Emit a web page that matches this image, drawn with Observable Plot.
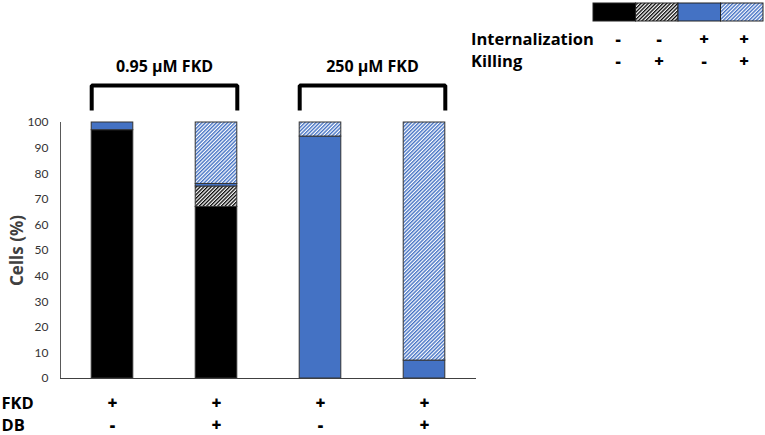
<!DOCTYPE html>
<html>
<head>
<meta charset="utf-8">
<script src="https://cdn.jsdelivr.net/npm/d3@7"></script>
<script src="https://cdn.jsdelivr.net/npm/@observablehq/plot@0.6"></script>
<style>
  html, body { margin: 0; padding: 0; background: #fff; }
  #wrap { position: relative; width: 765px; height: 435px; font-family: "Open Sans", Lato, sans-serif; }
  #legend { position: absolute; left: 0; top: 0; width: 765px; height: 80px; pointer-events: none; }
  .lg { position: absolute; font-weight: 700; font-size: 16.5px; color: #000; line-height: 1; }
</style>
</head>
<body>
<svg width="0" height="0" style="position:absolute">
  <defs>
    <pattern id="hatchBlack" patternUnits="userSpaceOnUse" width="2.6" height="2.6" patternTransform="rotate(45)">
      <rect width="2.6" height="2.6" fill="#fff"></rect>
      <rect width="1.3" height="2.6" fill="#000"></rect>
    </pattern>
    <pattern id="hatchBlue" patternUnits="userSpaceOnUse" width="2.6" height="2.6" patternTransform="rotate(45)">
      <rect width="2.6" height="2.6" fill="#fff"></rect>
      <rect width="1.4" height="2.6" fill="#4472c4"></rect>
    </pattern>
  </defs>
</svg>
<div id="wrap">
  <div id="chart"></div>
  <div id="legend"></div>
</div>
<script>
// ---- data ----
const conditions = ["0.95 µM FKD, DB-", "0.95 µM FKD, DB+", "250 µM FKD, DB-", "250 µM FKD, DB+"];
const states = ["Int- Kill-", "Int- Kill+", "Int+ Kill-", "Int+ Kill+"];
const stateFills = ["#000000", "url(#hatchBlack)", "#4472c4", "url(#hatchBlue)"];
const cond1 = [97, 0, 3, 0];
const cond2 = [67, 8, 1, 24];
const cond3 = [0, 0, 94.5, 5.5];
const cond4 = [0, 0, 7, 93];
const fkdSigns = ["+", "+", "+", "+"];
const dbSigns = ["-", "+", "-", "+"];
const groups = ["0.95 µM FKD", "250 µM FKD"];
const internalizationSigns = ["-", "-", "+", "+"];
const killingSigns = ["-", "+", "-", "+"];
const yTicks = [0, 10, 20, 30, 40, 50, 60, 70, 80, 90, 100];

// ---- build stacked segments ----
const series = [cond1, cond2, cond3, cond4];
const segments = [];
series.forEach((vals, i) => {
  let acc = 0;
  vals.forEach((v, j) => {
    if (v > 0) {
      segments.push({i, state: states[j], fill: stateFills[j], y1: acc, y2: acc + v});
    }
    acc += v;
  });
});
const half = 0.2; // half bar width in band units
const brackets = groups.flatMap((g, k) => {
  const a = 2 * k, b = 2 * k + 1;
  return [{g, x: a - half, y: 104.7}, {g, x: a - half, y: 114.5}, {g, x: b + half, y: 114.5}, {g, x: b + half, y: 104.7}];
});
const groupLabels = groups.map((g, k) => ({g, x: 2 * k + 0.5}));
const signRows = conditions.map((c, i) => ({i, fkd: fkdSigns[i], db: dbSigns[i]}));

const bold = "'Open Sans', Lato, sans-serif";
const chart = Plot.plot({
  width: 765,
  height: 435,
  marginLeft: 60,
  marginRight: 289,
  marginTop: 122,
  marginBottom: 57,
  style: {fontFamily: bold, background: "transparent", overflow: "visible"},
  x: {domain: [-0.5, 3.5], axis: null},
  y: {domain: [0, 100], axis: null},
  color: {type: "identity"},
  marks: [
    Plot.axisY({ticks: yTicks, tickSize: 0, tickPadding: 12, fontSize: 12, color: "#333", label: null, tickFormat: d => String(d), fontFamily: "Lato, sans-serif"}),
    Plot.ruleX([-0.5], {y1: 0, y2: 100, stroke: "#595959", strokeWidth: 1}),
    Plot.rect(segments, {x1: d => d.i - half, x2: d => d.i + half, y1: "y1", y2: "y2", fill: "fill", stroke: "#333", strokeWidth: 1}),
    Plot.ruleY([0], {x1: -0.5, x2: 3.5, stroke: "#404040", strokeWidth: 1.2}),
    Plot.line(brackets, {x: "x", y: "y", z: "g", stroke: "#000", strokeWidth: 4, strokeLinejoin: "miter", strokeLinecap: "butt"}),
    Plot.text(groupLabels, {x: "x", y: 121.9, text: "g", fontSize: 16, fontWeight: 700, fill: "#000"}),
    Plot.text(signRows, {x: "i", y: -9.8, text: "fkd", fontSize: 17, fontWeight: 800, fill: "#000"}),
    Plot.text(signRows, {x: "i", y: -18.4, text: "db", fontSize: 17, fontWeight: 800, fill: "#000"}),
    Plot.text(["FKD"], {x: -0.5, y: -9.8, dx: -59, text: d => d, textAnchor: "start", fontSize: 16.5, fontWeight: 700, fill: "#000"}),
    Plot.text(["DB"], {x: -0.5, y: -18.4, dx: -59, text: d => d, textAnchor: "start", fontSize: 16.5, fontWeight: 700, fill: "#000"}),
    Plot.text(["Cells (%)"], {x: -0.5, y: 50, dx: -43, text: d => d, rotate: -90, fontSize: 17, fontWeight: 700, fill: "#404040"})
  ]
});
document.getElementById("chart").appendChild(chart);

// ---- legend (top right) ----
const lg = d3.select("#legend");
const sw = lg.append("svg").attr("width", 765).attr("height", 80).style("position", "absolute").style("left", 0).style("top", 0);
const swX0 = 593, swW = 42.5, swY = 3, swH = 18;
sw.selectAll("rect.s").data(stateFills).join("rect")
  .attr("x", (d, j) => swX0 + j * swW).attr("y", swY).attr("width", swW).attr("height", swH)
  .attr("fill", d => d).attr("stroke", "#222").attr("stroke-width", 1);
const signX = [618, 659, 704, 744];
lg.append("div").attr("class", "lg").style("left", "471px").style("top", "31px").text("Internalization");
lg.append("div").attr("class", "lg").style("left", "471px").style("top", "53px").text("Killing");
internalizationSigns.forEach((s, j) => {
  lg.append("div").attr("class", "lg").style("left", (signX[j] - 6) + "px").style("top", "31px").style("width", "12px").style("text-align", "center").style("font-weight", "800").text(s);
});
killingSigns.forEach((s, j) => {
  lg.append("div").attr("class", "lg").style("left", (signX[j] - 6) + "px").style("top", "53px").style("width", "12px").style("text-align", "center").style("font-weight", "800").text(s);
});
</script>
</body>
</html>
